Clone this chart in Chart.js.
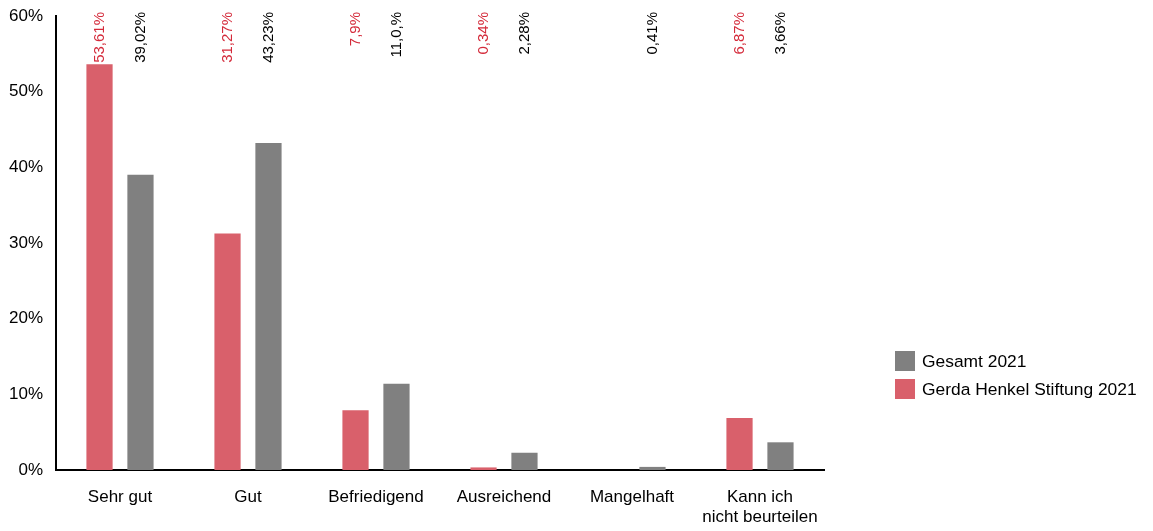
<!DOCTYPE html>
<html>
<head>
<meta charset="utf-8">
<script src="https://cdn.jsdelivr.net/npm/chart.js@4/dist/chart.umd.min.js"></script>
<style>
  html, body { margin: 0; padding: 0; background: #fff; }
  #wrap { position: relative; width: 1153px; height: 531px; }
  #legend { position: absolute; left: 895px; top: 347px; font: 17.4px "Liberation Sans", Arial, sans-serif; color: #000; }
  #legend div { display: flex; align-items: center; height: 28px; }
  #legend span.box { display: inline-block; width: 20px; height: 20px; margin-right: 7px; }
</style>
</head>
<body>
<div id="wrap">
  <canvas id="chart" width="1153" height="531"></canvas>
  <div id="legend"></div>
</div>
<script>
const categories = ['Sehr gut', 'Gut', 'Befriedigend', 'Ausreichend', 'Mangelhaft', ['Kann ich', 'nicht beurteilen']];
const ghsValues = [53.61, 31.27, 7.9, 0.34, 0, 6.87];
const ghsLabels = ['53,61%', '31,27%', '7,9%', '0,34%', '', '6,87%'];
const totalValues = [39.02, 43.23, 11.4, 2.28, 0.41, 3.66];
const totalLabels = ['39,02%', '43,23%', '11,0,%', '2,28%', '0,41%', '3,66%'];
const yTicks = [0, 10, 20, 30, 40, 50, 60];

const redBar = '#d9606b';
const redText = '#d42a3a';
const greyBar = '#808080';
const fontFamily = '"Liberation Sans", Arial, sans-serif';

// rotated value labels at the top of the plot
const valueLabels = {
  id: 'valueLabels',
  afterDatasetsDraw(chart) {
    const ctx = chart.ctx;
    const top = chart.chartArea.top;
    chart.data.datasets.forEach((ds, i) => {
      const meta = chart.getDatasetMeta(i);
      meta.data.forEach((bar, j) => {
        const text = ds.valueText[j];
        if (!text) return;
        ctx.save();
        ctx.translate(bar.x, top - 4);
        ctx.rotate(-Math.PI / 2);
        ctx.font = '15px ' + fontFamily;
        ctx.fillStyle = ds.textColor;
        ctx.textAlign = 'right';
        ctx.textBaseline = 'middle';
        ctx.fillText(text, 0, 0);
        ctx.restore();
      });
    });
  }
};

new Chart(document.getElementById('chart'), {
  type: 'bar',
  data: {
    labels: categories,
    datasets: [
      { label: 'Gerda Henkel Stiftung 2021', data: ghsValues, valueText: ghsLabels, textColor: redText, backgroundColor: redBar },
      { label: 'Gesamt 2021', data: totalValues, valueText: totalLabels, textColor: '#000', backgroundColor: greyBar },
    ],
  },
  options: {
    responsive: false,
    animation: false,
    categoryPercentage: 0.64,
    barPercentage: 0.64,
    layout: { padding: { top: 16, right: 329, left: 0, bottom: 0 } },
    plugins: { legend: { display: false }, tooltip: { enabled: false } },
    scales: {
      x: {
        grid: { display: false, drawTicks: false },
        border: { display: true, color: '#000', width: 2 },
        ticks: { color: '#000', font: { size: 17, family: fontFamily }, padding: 17, maxRotation: 0 },
        afterFit: s => { s.height = 61; s.paddingLeft = 0; s.paddingRight = 0; },
      },
      y: {
        min: 0,
        max: 60,
        afterBuildTicks: s => { s.ticks = yTicks.map(v => ({ value: v })); },
        grid: { display: false, drawTicks: false },
        border: { display: true, color: '#000', width: 2 },
        ticks: { color: '#000', font: { size: 17, family: fontFamily }, padding: 13, callback: v => v + '%' },
        afterFit: s => { s.width = 56; s.paddingTop = 0; s.paddingBottom = 0; },
      },
    },
  },
  plugins: [valueLabels],
});

// legend (order as in the original: Gesamt first)
const legend = document.getElementById('legend');
[['Gesamt 2021', greyBar], ['Gerda Henkel Stiftung 2021', redBar]].forEach(([name, color]) => {
  const row = document.createElement('div');
  row.innerHTML = '<span class="box" style="background:' + color + '"></span>' + name;
  legend.appendChild(row);
});
</script>
</body>
</html>
